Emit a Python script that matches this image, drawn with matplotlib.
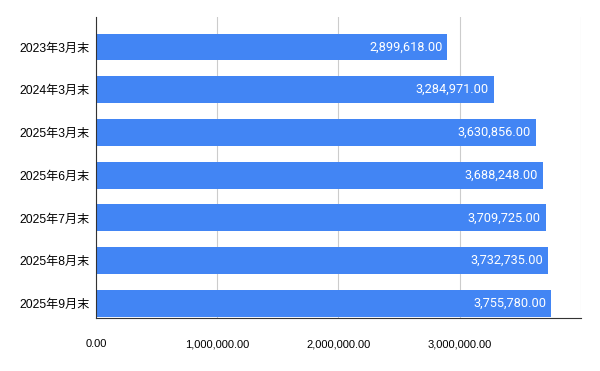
import matplotlib.pyplot as plt
from matplotlib.ticker import FuncFormatter

labels = ["2023年3月末", "2024年3月末", "2025年3月末", "2025年6月末",
          "2025年7月末", "2025年8月末", "2025年9月末"]
values = [2899618.00, 3284971.00, 3630856.00, 3688248.00,
          3709725.00, 3732735.00, 3755780.00]

fig = plt.figure(figsize=(6, 3.71), dpi=100)
ax = fig.add_axes([0.16, 0.143, 0.808, 0.811])

pos = list(range(len(labels)))
ax.barh(pos, values, height=0.63, color="#4285F4", zorder=3)

# value labels inside the bar ends
for p, v in zip(pos, values):
    ax.text(v - 42000, p, f"{v:,.2f}", color="white", ha="right", va="center",
            fontsize=9.2, family=["Roboto", "DejaVu Sans"], zorder=4)

ax.set_yticks(pos)
ax.set_yticklabels(labels, fontsize=8.7, family=["Liberation Sans", "Noto Sans CJK JP"])
ax.set_ylim(6.34, -0.70)

ax.set_xlim(0, 4000000)
ax.set_xticks([0, 1000000, 2000000, 3000000, 4000000])
ax.xaxis.set_major_formatter(FuncFormatter(lambda x, _: "" if x >= 4000000 else f"{x:,.2f}"))
for t in ax.get_xticklabels():
    t.set_family("Liberation Sans")
ax.tick_params(axis="x", labelsize=8, length=0, pad=15.2)
ax.tick_params(axis="y", length=0, pad=4.3)
ax.grid(axis="x", color="#cccccc", linewidth=0.8, zorder=0)

for s in ["top", "right"]:
    ax.spines[s].set_visible(False)
ax.spines["left"].set_color("#333333")
ax.spines["bottom"].set_color("#333333")
ax.spines["left"].set_zorder(5)

fig.savefig("out.png", dpi=100)
